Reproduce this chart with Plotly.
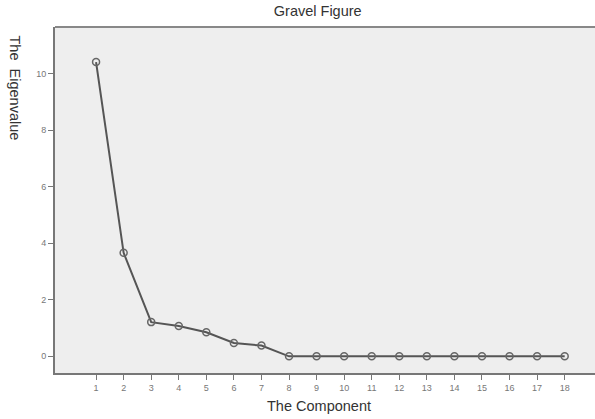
import plotly.graph_objects as go

components = list(range(1, 19))
eigenvalues = [10.41, 3.66, 1.21, 1.07, 0.85, 0.47, 0.38,
               0.0, 0.0, 0.0, 0.0, 0.0, 0.0, 0.0, 0.0, 0.0, 0.0, 0.0]
y_ticks = [0, 2, 4, 6, 8, 10]

fig = go.Figure()
fig.add_trace(go.Scatter(
    x=components, y=eigenvalues, mode="lines+markers",
    line=dict(color="#555555", width=2),
    marker=dict(symbol="circle-open", size=7, color="#666666", line=dict(width=1.5)),
    showlegend=False,
))

fig.update_layout(
    width=595, height=419,
    margin=dict(l=55, r=0, t=27, b=46),
    paper_bgcolor="white", plot_bgcolor="#eeeeee",
    font=dict(family="Liberation Sans, Arial, sans-serif", color="#333333"),
    title=dict(text="Gravel Figure", x=0.534, xanchor="center", y=0.974, yanchor="middle",
               font=dict(size=14.5, color="#333333")),
    xaxis=dict(range=[-0.49, 19.1], tickvals=components, ticks="outside", ticklen=5,
               tickcolor="#777777", tickfont=dict(size=9, color="#777777"),
               showgrid=False, zeroline=False, showline=True, linecolor="#777777", linewidth=2,
               mirror=False),
    yaxis=dict(range=[-0.59, 11.65], tickvals=y_ticks, ticks="outside", ticklen=5,
               tickcolor="#777777", tickfont=dict(size=9, color="#777777"),
               showgrid=False, zeroline=False, showline=True, linecolor="#777777", linewidth=2),
)
fig.add_shape(type="line", xref="paper", yref="paper", x0=0, x1=1, y0=1, y1=1,
              line=dict(color="#888888", width=2))
fig.add_annotation(text="The Component", xref="paper", yref="paper", x=0.489, y=-0.095,
                   xanchor="center", yanchor="middle", showarrow=False,
                   font=dict(size=14.5, color="#333333"))
fig.add_annotation(text="The  Eigenvalue", xref="paper", yref="paper", x=-0.074, y=0.825,
                   xanchor="center", yanchor="middle", showarrow=False, textangle=90,
                   font=dict(size=14.5, color="#333333"))

fig.write_html("out.html", config={"displayModeBar": False},
               post_script="document.body.style.margin='0';document.body.style.overflow='hidden';")
